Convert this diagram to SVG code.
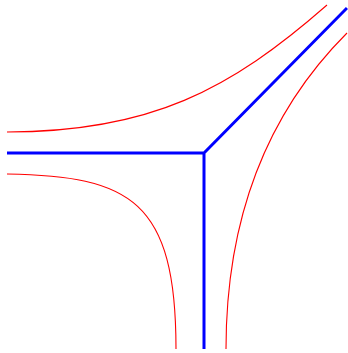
<svg xmlns="http://www.w3.org/2000/svg" width="348" height="353" viewBox="0 0 348 353">
<style>
.axis{fill:none;stroke:#0000ff;stroke-width:3;stroke-linejoin:miter}
.curve{fill:none;stroke:#ff0000;stroke-width:1.1}
</style>
<rect width="348" height="353" fill="#ffffff"/>
<g id="connectors">
<path class="axis" d="M7,153 H204 V349 M204,153 L347,8"/>
</g>
<g id="curves">
<path class="curve" d="M7,132 C150,132 230,90 327,5"/>
<path class="curve" d="M7,174 C130,176 176,200 176,349"/>
<path class="curve" d="M347,33 C280,100 226,200 226,349"/>
</g>
</svg>
